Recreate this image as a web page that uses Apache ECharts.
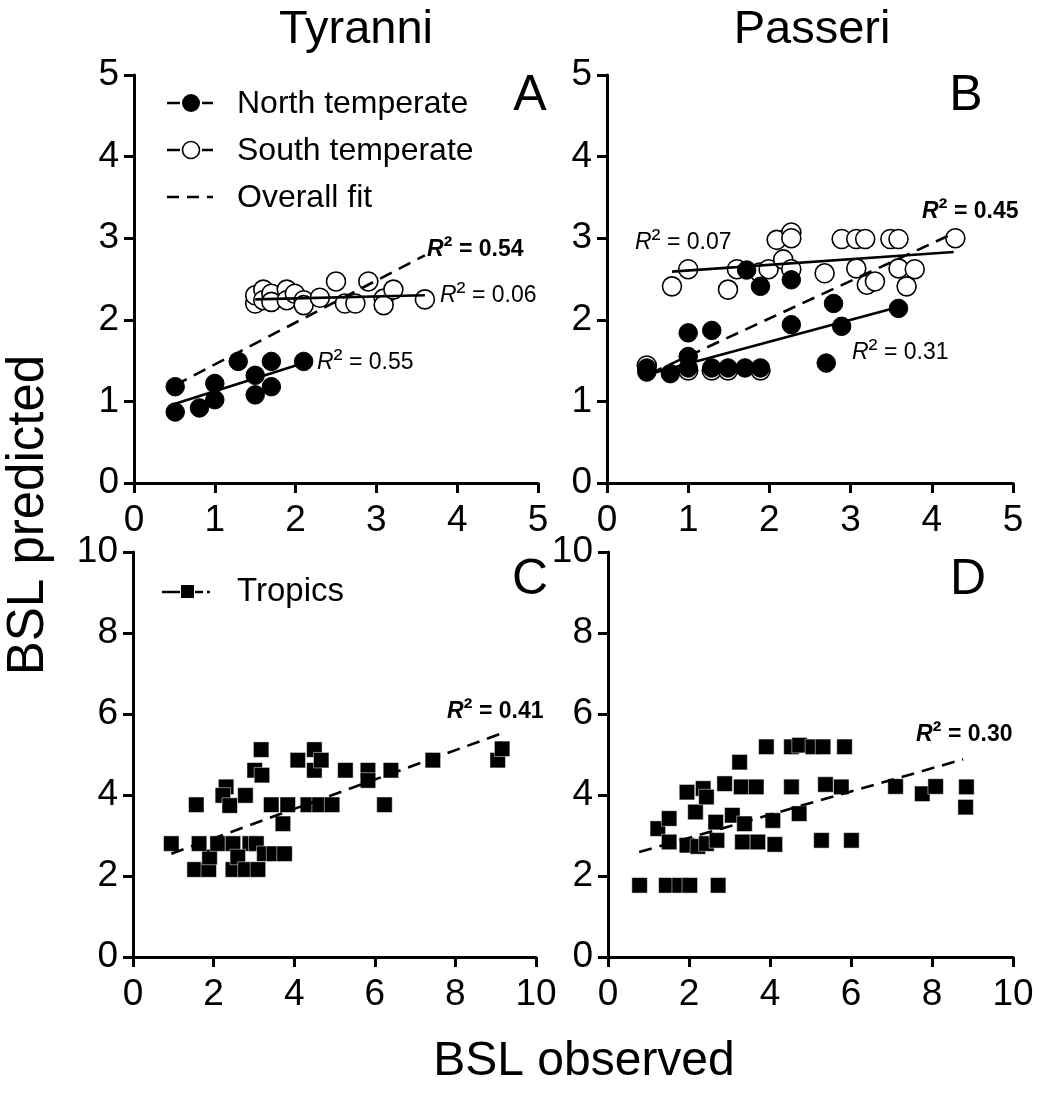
<!DOCTYPE html>
<html>
<head>
<meta charset="utf-8">
<script src="https://cdn.jsdelivr.net/npm/echarts@6/dist/echarts.min.js"></script>
<style>
html,body{margin:0;padding:0;background:#fff;}
#chart{width:1039px;height:1095px;}
</style>
</head>
<body>
<div id="chart"></div>
<script>
// ---------- DATA ----------
const tickA = [0, 1, 2, 3, 4, 5];
const tickC = [0, 2, 4, 6, 8, 10];

// Panel A (Tyranni, temperate)
const aNorth = [[0.51,1.18],[0.51,0.87],[0.81,0.92],[1.0,1.02],[1.0,1.22],[1.29,1.49],[1.5,1.32],[1.5,1.08],[1.7,1.49],[1.7,1.18],[2.1,1.49]];
const aSouth = [[1.5,2.20],[1.5,2.30],[1.6,2.37],[1.6,2.24],[1.7,2.32],[1.7,2.22],[1.89,2.37],[1.89,2.24],[1.99,2.32],[2.1,2.24],[2.1,2.18],[2.3,2.27],[2.5,2.47],[2.61,2.20],[2.74,2.20],[2.9,2.47],[3.09,2.26],[3.09,2.18],[3.21,2.37],[3.6,2.25]];
const aNorthFit = [[0.51,0.97],[2.1,1.47]];
const aSouthFit = [[1.5,2.25],[3.6,2.30]];
const aOverallFit = [[0.51,1.20],[3.6,2.79]];

// Panel B (Passeri, temperate)
const bNorth = [[0.49,1.41],[0.49,1.36],[0.78,1.34],[1.0,1.84],[1.0,1.55],[1.0,1.41],[1.29,1.87],[1.29,1.41],[1.49,1.41],[1.7,1.41],[1.89,1.41],[1.89,2.41],[1.72,2.61],[2.27,1.94],[2.27,2.49],[2.7,1.47],[2.79,2.2],[2.89,1.92],[3.59,2.14]];
const bSouth = [[0.49,1.44],[1.0,1.38],[1.29,1.38],[1.49,1.38],[1.89,1.38],[0.8,2.41],[1.0,2.62],[1.49,2.37],[1.6,2.62],[1.88,2.58],[1.99,2.62],[2.09,2.98],[2.17,2.74],[2.27,3.07],[2.27,3.0],[2.27,2.62],[2.68,2.57],[2.89,2.99],[3.07,2.99],[3.07,2.63],[3.18,2.99],[3.2,2.43],[3.3,2.47],[3.49,2.99],[3.59,2.99],[3.59,2.63],[3.79,2.62],[3.69,2.41],[4.29,3.0]];
const bNorthFit = [[0.5,1.33],[3.6,2.16]];
const bSouthFit = [[0.8,2.59],[4.27,2.83]];
const bOverallFit = [[0.53,1.34],[4.27,3.06]];

// Panel C (Tyranni, tropics)
const cTropics = [[0.95,2.80],[1.57,3.76],[1.53,2.16],[1.88,2.16],[1.90,2.47],[1.64,2.80],[2.1,2.80],[2.48,2.80],[2.9,2.80],[2.31,4.20],[2.23,3.99],[2.40,3.74],[2.48,2.16],[2.6,2.47],[2.79,3.99],[3.06,2.80],[2.79,2.16],[3.1,2.16],[3.02,4.61],[3.2,4.49],[3.18,5.12],[3.26,2.55],[3.5,2.55],[3.43,3.76],[3.76,2.55],[3.72,3.29],[3.84,3.76],[4.09,4.86],[4.34,3.76],[4.63,3.76],[4.5,5.12],[4.5,4.61],[4.67,4.86],[4.94,3.76],[5.27,4.61],[5.83,4.61],[5.83,4.36],[6.24,3.76],[6.4,4.61],[7.44,4.86],[9.05,4.86],[9.16,5.14]];
const cFit = [[0.95,2.55],[9.17,5.53]];

// Panel D (Passeri, tropics)
const dTropics = [[0.78,1.77],[1.44,1.77],[1.77,1.77],[2.02,1.77],[2.72,1.77],[1.23,3.17],[1.51,3.42],[1.51,2.84],[1.95,4.07],[1.95,2.76],[2.22,2.73],[2.16,3.58],[2.35,4.16],[2.43,3.95],[2.43,2.80],[2.66,3.33],[2.69,2.88],[2.88,4.28],[3.07,3.50],[3.25,4.81],[3.29,4.20],[3.32,2.84],[3.37,3.29],[3.66,4.20],[3.70,2.84],[4.07,3.37],[4.12,2.78],[3.91,5.19],[4.53,5.19],[4.73,5.23],[5.06,5.19],[5.31,5.19],[4.53,4.20],[4.72,3.54],[5.27,2.88],[5.37,4.26],[5.76,4.20],[5.84,5.19],[6.01,2.88],[7.10,4.21],[7.76,4.03],[8.09,4.21],[8.85,4.20],[8.83,3.70]];
const dFit = [[0.77,2.59],[8.77,4.88]];

const r2Values = ['0.54','0.06','0.55','0.07','0.45','0.31','0.41','0.30'];
const panelTitles = ['Tyranni','Passeri'];
const panelLetters = ['A','B','C','D'];
const legendNames = ['North temperate','South temperate','Overall fit','Tropics'];
const axisTitles = ['BSL predicted','BSL observed'];

// ---------- CHART ----------
const FONT = "'Liberation Sans', Arial, Helvetica, sans-serif";
const chart = echarts.init(document.getElementById('chart'), null, {renderer:'canvas'});

const grids = [
  {left:134, top:75, width:404, height:408},
  {left:607, top:75, width:406, height:408},
  {left:133, top:552, width:403, height:405},
  {left:608, top:552, width:405, height:405}
];

function axisBase(max, interval){
  return {
    type:'value', min:0, max:max, interval:interval,
    axisLine:{show:true, onZero:false, lineStyle:{color:'#000', width:3}},
    axisTick:{show:true, inside:false, length:10, lineStyle:{color:'#000', width:3}},
    splitLine:{show:false},
    axisLabel:{color:'#000', fontSize:37, fontFamily:FONT}
  };
}
const xAxes = [0,1,2,3].map(i => {
  const a = axisBase(i<2?5:10, i<2?1:2);
  a.gridIndex = i; a.axisLabel.margin = 19;
  return a;
});
const yAxes = [0,1,2,3].map(i => {
  const a = axisBase(i<2?5:10, i<2?1:2);
  a.gridIndex = i; a.axisLabel.margin = 15;
  return a;
});

function filled(data, i){
  return {type:'scatter', xAxisIndex:i, yAxisIndex:i, data:data, symbol:'circle', symbolSize:18.5,
    itemStyle:{color:'#000', borderColor:'#000', borderWidth:1, opacity:1}, z:3, silent:true};
}
function open(data, i){
  return {type:'scatter', xAxisIndex:i, yAxisIndex:i, data:data, symbol:'circle', symbolSize:19,
    itemStyle:{color:'#fff', borderColor:'#000', borderWidth:1.6, opacity:1}, z:2, silent:true};
}
function squares(data, i){
  return {type:'scatter', xAxisIndex:i, yAxisIndex:i, data:data, symbol:'rect', symbolSize:15.5,
    itemStyle:{color:'#000', borderColor:'#fff', borderWidth:0.5, opacity:1}, z:2, silent:true};
}
function fit(data, i, dashed){
  return {type:'line', xAxisIndex:i, yAxisIndex:i, data:data, showSymbol:false, symbol:'none',
    lineStyle:{color:'#000', width:2.6, type: dashed ? [13,8] : 'solid'}, z:5, silent:true, animation:false};
}

const series = [
  open(aSouth,0), filled(aNorth,0), fit(aNorthFit,0,false), fit(aSouthFit,0,false), fit(aOverallFit,0,true),
  open(bSouth,1), filled(bNorth,1), fit(bNorthFit,1,false), fit(bSouthFit,1,false), fit(bOverallFit,1,true),
  squares(cTropics,2), fit(cFit,2,true),
  squares(dTropics,3), fit(dFit,3,true)
];

function txt(x, y, s, size, opts){
  return {type:'text', x:x, y:y, silent:true, style:Object.assign({
    text:s, fontSize:size, fontFamily:FONT, fill:'#000', align:'left', verticalAlign:'middle'}, opts||{})};
}
function r2(x, y, val, bold){
  const w = bold ? 'bold' : 'normal';
  return {type:'text', x:x, y:y, silent:true, style:{
    text:'{i|R}{s|\u00B2}{n| = ' + val + '}',
    fontFamily:FONT, fill:'#000', align:'left', verticalAlign:'middle',
    rich:{
      i:{fontStyle:'italic', fontWeight:w, fontSize:23, lineHeight:26, fontFamily:FONT, fill:'#000', verticalAlign:'bottom'},
      s:{fontWeight:w, fontSize:27, lineHeight:26, fontFamily:FONT, fill:'#000', verticalAlign:'bottom'},
      n:{fontWeight:w, fontSize:23, lineHeight:26, fontFamily:FONT, fill:'#000', verticalAlign:'bottom'}
    }}};
}
function hline(x1, x2, y, dash){
  return {type:'line', silent:true, shape:{x1:x1, y1:y, x2:x2, y2:y},
    style:{stroke:'#000', lineWidth:2.5, lineDash: dash || null}};
}

const graphic = [
  // panel titles
  txt(356, 30, panelTitles[0], 47, {align:'center'}),
  txt(812, 30, panelTitles[1], 47, {align:'center'}),
  // panel letters
  txt(530, 96, panelLetters[0], 50, {align:'center'}),
  txt(966, 96, panelLetters[1], 50, {align:'center'}),
  txt(530, 580, panelLetters[2], 50, {align:'center'}),
  txt(968, 580, panelLetters[3], 50, {align:'center'}),
  // axis titles
  {type:'text', x:29, y:515, rotation:Math.PI/2, silent:true, style:{text:axisTitles[0], fontSize:51, fontFamily:FONT, fill:'#000', align:'center', verticalAlign:'middle'}},
  txt(584, 1062, axisTitles[1], 48, {align:'center'}),
  // legend A
  hline(167, 180, 103), hline(202, 213, 103),
  {type:'circle', silent:true, shape:{cx:191, cy:103, r:9}, style:{fill:'#000'}},
  txt(237, 104, legendNames[0], 32),
  hline(167, 180, 150), hline(202, 213, 150),
  {type:'circle', silent:true, shape:{cx:191, cy:150, r:8.5}, style:{fill:'#fff', stroke:'#000', lineWidth:1.6}},
  txt(237, 151, legendNames[1], 32),
  hline(167, 213, 197, [12,8]),
  txt(237, 198, legendNames[2], 32),
  // legend C
  hline(162, 180, 592), hline(195, 203, 592), hline(207, 210, 592),
  {type:'rect', silent:true, shape:{x:181, y:585, width:13, height:13}, style:{fill:'#000'}},
  txt(237, 592, legendNames[3], 33),
  // R^2 labels
  r2(427, 248, r2Values[0], true),
  r2(440, 294, r2Values[1], false),
  r2(317, 361, r2Values[2], false),
  r2(635, 241, r2Values[3], false),
  r2(922, 210, r2Values[4], true),
  r2(852, 351, r2Values[5], false),
  r2(447, 710, r2Values[6], true),
  r2(916, 733, r2Values[7], true)
];

chart.setOption({
  animation:false,
  backgroundColor:'#fff',
  grid:grids,
  xAxis:xAxes,
  yAxis:yAxes,
  series:series,
  graphic:graphic
});
</script>
</body>
</html>
